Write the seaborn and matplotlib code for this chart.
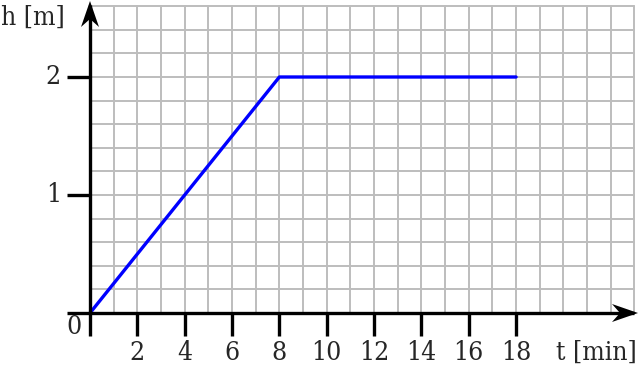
import numpy as np
import pandas as pd
import matplotlib
matplotlib.use("Agg")
import matplotlib.pyplot as plt
from matplotlib.patches import Polygon
import seaborn as sns

# Data
t_min = [0, 8, 18]
h_m = [0, 2, 2]
x_ticks = [2, 4, 6, 8, 10, 12, 14, 16, 18]
y_ticks = [1, 2]
x_label = "t [min]"
y_label = "h [m]"

sns.set_theme(style="white")
plt.rcParams['font.family'] = ['DejaVu Serif']
plt.rcParams['font.stretch'] = 'condensed'

W, H = 640, 366
fig = plt.figure(figsize=(W / 100, H / 100), dpi=100)
ax = fig.add_axes([0, 0, 1, 1])

px_x = 23.67   # pixels per minute
px_y = 118.0   # pixels per metre
x0_px, y0_px = 90.0, 313.0
ax.set_xlim(-x0_px / px_x, (W - x0_px) / px_x)
ax.set_ylim(-(H - y0_px) / px_y, y0_px / px_y)
ax.axis("off")

# grid
gx_max, gy_max = 23, 2.6
for gx in np.arange(1, gx_max + 0.01, 1):
    ax.plot([gx, gx], [0, gy_max], color="#bdbdbd", lw=1.4, zorder=1)
for gy in np.arange(0.2, gy_max + 0.001, 0.2):
    ax.plot([0, gx_max], [gy, gy], color="#bdbdbd", lw=1.4, zorder=1)

# data line
df = pd.DataFrame({"t": t_min, "h": h_m})
sns.lineplot(data=df, x="t", y="h", ax=ax, color="#0000ff", lw=2.4, zorder=4,
             legend=False)

# axes
ax.plot([-23 / px_x, 23.0], [0, 0], color="black", lw=2.4, zorder=5,
        solid_capstyle="butt")
ax.plot([0, 0], [-23 / px_y, 2.61], color="black", lw=2.4, zorder=5,
        solid_capstyle="butt")

# arrowheads (pixel-shaped)
def arrow_head(tip_px, direction):
    tx, ty = tip_px
    L, Wd, notch = 26, 9, 8
    if direction == "right":
        pts = [(tx, ty), (tx - L, ty - Wd), (tx - L + notch, ty), (tx - L, ty + Wd)]
    else:
        pts = [(tx, ty), (tx - Wd, ty + L), (tx, ty + L - notch), (tx + Wd, ty + L)]
    data = [((px - x0_px) / px_x, (y0_px - py) / px_y) for px, py in pts]
    ax.add_patch(Polygon(data, closed=True, color="black", zorder=6, lw=0))

arrow_head((638, 313), "right")
arrow_head((90, 1), "up")

FS = 19
# ticks
for xt in x_ticks:
    ax.plot([xt, xt], [0, -23 / px_y], color="black", lw=2.4, zorder=5,
            solid_capstyle="butt")
    ax.text(xt, -39 / px_y, str(xt), ha="center", va="center", fontsize=FS)
for yt in y_ticks:
    ax.plot([-23 / px_x, 0], [yt, yt], color="black", lw=2.4, zorder=5,
            solid_capstyle="butt")
    ax.text(-29 / px_x, yt, str(yt), ha="right", va="center", fontsize=FS)

ax.text(-16 / px_x, -13 / px_y, "0", ha="center", va="center", fontsize=FS)
ax.text(-89 / px_x, (y0_px - 17) / px_y, y_label, ha="left", va="center",
        fontsize=FS)
ax.text((637 - x0_px) / px_x, -39 / px_y, x_label, ha="right", va="center",
        fontsize=FS)

fig.savefig("out.png", dpi=100)
